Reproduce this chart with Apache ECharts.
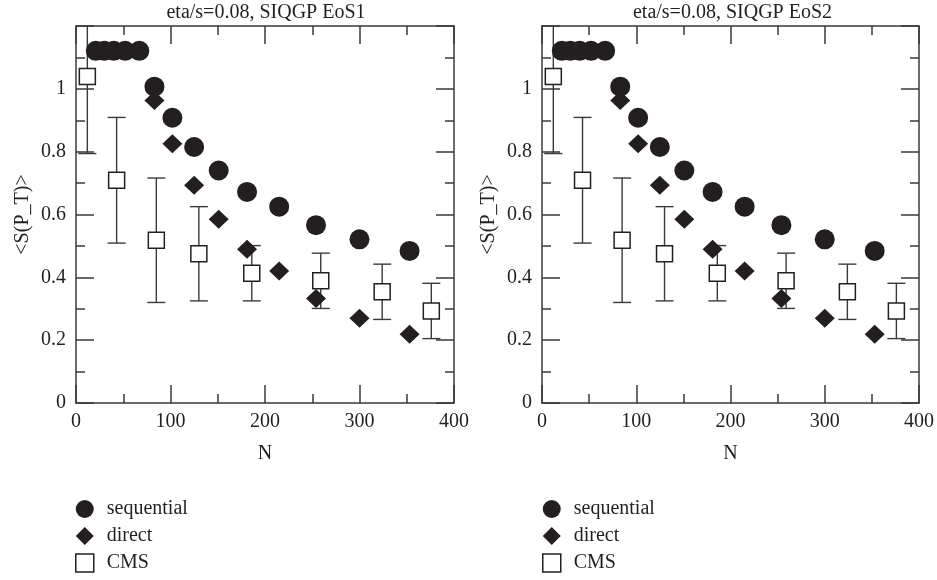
<!DOCTYPE html>
<html>
<head>
<meta charset="utf-8">
<script src="https://cdn.jsdelivr.net/npm/echarts@6/dist/echarts.min.js"></script>
<style>
html,body{margin:0;padding:0;background:#fff;}
#c{width:937px;height:580px;}
</style>
</head>
<body>
<div id="c"></div>
<script>
// ---- data ----
const titles = ['eta/s=0.08, SIQGP EoS1', 'eta/s=0.08, SIQGP EoS2'];
const xTicks = [0, 100, 200, 300, 400];
const yTicks = [0, 0.2, 0.4, 0.6, 0.8, 1];

const seqX = [21, 30, 40, 52, 67, 83, 102, 125, 151, 181, 215, 254, 300, 353];
const seqY = [1.121, 1.121, 1.121, 1.121, 1.121, 1.007, 0.908, 0.815, 0.740, 0.672, 0.625, 0.566, 0.521, 0.484];

const dirX = [83, 102, 125, 151, 181, 215, 254, 300, 353];
const dirY = [0.963, 0.825, 0.693, 0.585, 0.489, 0.420, 0.333, 0.270, 0.219];

const cmsX = [12, 43, 85, 130, 186, 259, 324, 376];
const cmsY = [1.039, 0.709, 0.518, 0.475, 0.413, 0.389, 0.354, 0.293];
const cmsErr = [0.245, 0.200, 0.198, 0.150, 0.088, 0.088, 0.088, 0.088];

// ---- chart ----
const INK = '#231f20';
const LINE = '#3a3a3a';
const FONT = 'Liberation Serif';
const FS = 20;
const grids = [
  {left: 76, top: 26, width: 378, height: 377},
  {left: 542, top: 26, width: 379, height: 377}
];

const option = {
  animation: false,
  backgroundColor: '#fff',
  textStyle: {fontFamily: FONT, color: INK},
  title: [],
  legend: [],
  grid: grids.map(g => Object.assign({containLabel: false}, g)),
  xAxis: [],
  yAxis: [],
  series: []
};

function tickCfg() {
  return {
    axisLine: {show: true, onZero: false, lineStyle: {color: LINE, width: 1.5}},
    axisTick: {show: true, inside: true, length: 18, lineStyle: {color: LINE, width: 1.5}},
    minorTick: {show: true, splitNumber: 2, length: 9, lineStyle: {color: LINE, width: 1.5}},
    splitLine: {show: false}
  };
}

const zip = (a, b) => a.map((v, i) => [v, b[i]]);

grids.forEach((g, k) => {
  option.title.push({
    text: titles[k],
    left: g.left + g.width / 2 + 1,
    textAlign: 'center',
    top: 3,
    padding: 0,
    textStyle: {fontFamily: FONT, fontSize: FS, fontWeight: 'normal', color: INK, lineHeight: 20}
  });
  option.legend.push({
    orient: 'vertical',
    left: k === 0 ? 75 : 542,
    top: 499,
    height: 81,
    padding: 0,
    itemWidth: 18,
    itemHeight: 18,
    itemGap: 7,
    textStyle: {fontFamily: FONT, fontSize: FS, color: INK, padding: [0, 0, 0, 8]},
    data: [
      {name: 'sequential', icon: 'circle', itemStyle: {color: INK}},
      {name: 'direct', icon: 'diamond', itemStyle: {color: INK}},
      {name: 'CMS', icon: 'rect', itemStyle: {color: '#fff', borderColor: INK, borderWidth: 1.5}}
    ]
  });
  const xb = Object.assign({
    type: 'value', gridIndex: k, position: 'bottom', min: 0, max: 400, interval: 100,
    name: 'N', nameLocation: 'middle', nameGap: 41,
    nameTextStyle: {fontFamily: FONT, fontSize: FS, color: INK},
    axisLabel: {show: true, margin: 9, fontFamily: FONT, fontSize: FS, color: INK,
      formatter: v => xTicks.includes(v) ? String(v) : ''}
  }, tickCfg());
  const xt = Object.assign({
    type: 'value', gridIndex: k, position: 'top', min: 0, max: 400, interval: 100,
    axisLabel: {show: false}
  }, tickCfg());
  const yl = Object.assign({
    type: 'value', gridIndex: k, position: 'left', min: 0, max: 1.2, interval: 0.2,
    name: '<S(P_T)>', nameLocation: 'middle', nameGap: 43, nameRotate: 90,
    nameTextStyle: {fontFamily: FONT, fontSize: FS, color: INK},
    axisLabel: {show: true, margin: 10, fontFamily: FONT, fontSize: FS, color: INK,
      formatter: v => { const r = Math.round(v * 10) / 10; return yTicks.includes(r) ? String(r) : ''; }}
  }, tickCfg());
  const yr = Object.assign({
    type: 'value', gridIndex: k, position: 'right', min: 0, max: 1.2, interval: 0.2,
    axisLabel: {show: false}
  }, tickCfg());
  option.xAxis.push(xb, xt);
  option.yAxis.push(yl, yr);
  const xi = 2 * k, yi = 2 * k;

  option.series.push({
    name: 'CMS err', type: 'custom', xAxisIndex: xi, yAxisIndex: yi, clip: true, z: 2,
    data: cmsX.map((x, i) => [x, cmsY[i] - cmsErr[i], cmsY[i] + cmsErr[i]]),
    encode: {x: 0, y: [1, 2]},
    renderItem: (params, api) => {
      const x = api.value(0);
      const pLo = api.coord([x, api.value(1)]);
      const pHi = api.coord([x, api.value(2)]);
      const w = 9;
      const st = {stroke: LINE, lineWidth: 1.4};
      return {type: 'group', children: [
        {type: 'line', shape: {x1: pLo[0], y1: pHi[1], x2: pLo[0], y2: pLo[1]}, style: st},
        {type: 'line', shape: {x1: pLo[0] - w, y1: pHi[1], x2: pLo[0] + w, y2: pHi[1]}, style: st},
        {type: 'line', shape: {x1: pLo[0] - w, y1: pLo[1], x2: pLo[0] + w, y2: pLo[1]}, style: st}
      ]};
    }
  });
  option.series.push({
    name: 'CMS', type: 'scatter', xAxisIndex: xi, yAxisIndex: yi, z: 3,
    symbol: 'rect', symbolSize: 16,
    itemStyle: {color: '#fff', borderColor: INK, borderWidth: 1.5, opacity: 1},
    data: zip(cmsX, cmsY)
  });
  option.series.push({
    name: 'direct', type: 'scatter', xAxisIndex: xi, yAxisIndex: yi, z: 4,
    symbol: 'diamond', symbolSize: [20, 19],
    itemStyle: {color: INK, opacity: 1},
    data: zip(dirX, dirY)
  });
  option.series.push({
    name: 'sequential', type: 'scatter', xAxisIndex: xi, yAxisIndex: yi, z: 5,
    symbol: 'circle', symbolSize: 20,
    itemStyle: {color: INK, opacity: 1},
    data: zip(seqX, seqY)
  });
});

const chart = echarts.init(document.getElementById('c'), null, {renderer: 'canvas'});
chart.setOption(option);
</script>
</body>
</html>
